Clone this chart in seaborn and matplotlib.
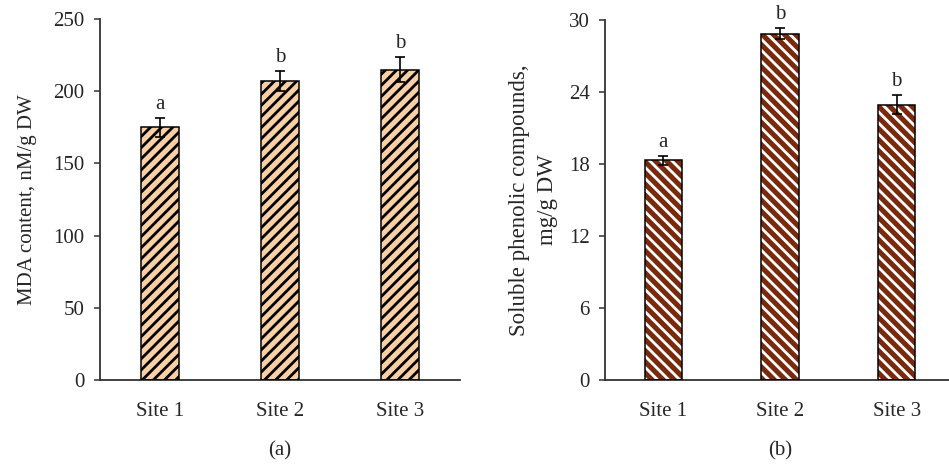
import numpy as np
import pandas as pd
import seaborn as sns
import matplotlib.pyplot as plt
from matplotlib.patches import Rectangle

sites = ["Site 1", "Site 2", "Site 3"]

mda_mean = [175, 207, 215]
mda_err = [6.5, 7, 8.5]
mda_letters = ["a", "b", "b"]

phen_mean = [18.3, 28.85, 22.95]
phen_err = [0.35, 0.45, 0.8]
phen_letters = ["a", "b", "b"]

sns.set_style("white")
plt.rcParams['font.family'] = ['Liberation Serif', 'DejaVu Serif']
plt.rcParams['hatch.linewidth'] = 2.0

fig = plt.figure(figsize=(9.49, 4.66), dpi=100)
ax1 = fig.add_axes([100 / 949, 1 - 380 / 466, 360 / 949, 361 / 466])
ax2 = fig.add_axes([605 / 949, 1 - 380 / 466, 350 / 949, 360 / 466])


def draw_panel(ax, means, errs, letters, fill, hatch, hatch_col, ylim, yticks,
               ylabel, ylab_size, ylab_pad, tag):
    df = pd.DataFrame({"site": sites, "value": means})
    sns.barplot(data=df, x="site", y="value", color=fill, width=0.32,
                saturation=1, edgecolor=hatch_col, linewidth=0, ax=ax)
    centers = []
    for p in ax.patches:
        p.set_hatch(hatch)
        ax.add_patch(Rectangle(p.get_xy(), p.get_width(), p.get_height(),
                               fill=False, edgecolor="black", linewidth=1.1, zorder=3))
        centers.append(p.get_x() + p.get_width() / 2)
    ax.errorbar(centers, means, yerr=errs, fmt="none", ecolor="black",
                elinewidth=1.2, capsize=3.5, capthick=1.2, zorder=4)
    for x, m, e, t in zip(centers, means, errs, letters):
        ax.annotate(t, (x, m + e), xytext=(0, 3), textcoords="offset points",
                    ha="center", va="bottom", fontsize=15)
    ax.set_xlim(-0.5, 2.5)
    ax.set_ylim(*ylim)
    ax.set_yticks(yticks)
    ax.set_xlabel("")
    ax.set_ylabel(ylabel, fontsize=ylab_size, linespacing=1.45, labelpad=ylab_pad)
    sns.despine(ax=ax)
    for s in ["left", "bottom"]:
        ax.spines[s].set_color("#333333")
        ax.spines[s].set_linewidth(1.3)
    ax.tick_params(axis="y", direction="out", length=4, width=1.1, color="#333333",
                   labelsize=15, pad=7, left=True)
    ax.tick_params(axis="x", length=0, labelsize=15, pad=16)
    ax.text(0.5, -0.17, tag, transform=ax.transAxes, ha="center", va="top", fontsize=15)


draw_panel(ax1, mda_mean, mda_err, mda_letters, "#F9CFA6", "///", "black",
           (0, 250), np.arange(0, 251, 50), "MDA content, nM/g DW", 15, 12, "(a)")
draw_panel(ax2, phen_mean, phen_err, phen_letters, "#7A2A0C", "\\\\\\", "white",
           (0, 30), np.arange(0, 31, 6), "Soluble phenolic compounds,\nmg/g DW", 16.5, 8, "(b)")

fig.savefig("out.png", dpi=100)
